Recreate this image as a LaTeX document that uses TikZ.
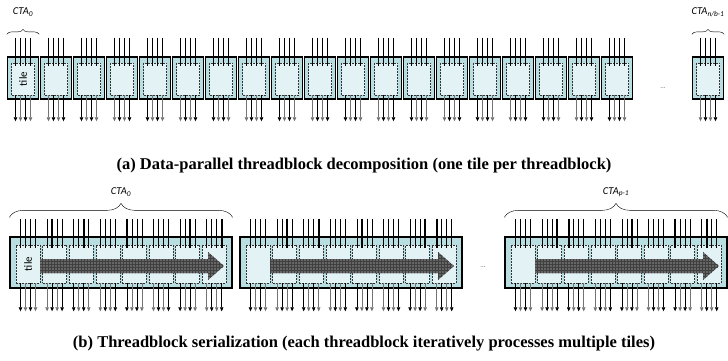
\documentclass[tikz,border=0pt]{standalone}
\usepackage{fontspec}
\setmainfont{Liberation Serif}
\newfontfamily\calibri{Carlito}
\usetikzlibrary{arrows.meta,decorations.pathreplacing,patterns}
\definecolor{ctafill}{HTML}{B9DEE2}
\definecolor{tilefill}{HTML}{E3F3F5}
\tikzset{
  cta/.style={draw=black,line width=1.3pt,fill=ctafill,inner sep=0pt},
  tilebox/.style={draw=black!80,dash pattern=on 2pt off 1pt,line width=0.6pt,fill=tilefill,inner sep=0pt},
  wireout/.style={line width=0.7pt,-{Triangle[width=3.5pt,length=4pt]}},
  brc/.style={decorate,decoration={brace,amplitude=#1}},
  lbl/.style={font=\calibri\itshape\fontsize{10.5}{12}\selectfont,inner sep=0pt},
  tilelbl/.style={rotate=90,font=\calibri\fontsize{11}{13}\selectfont},
  subcap/.style={font=\bfseries\fontsize{16.5}{19}\selectfont},
  dots/.style={font=\calibri\scriptsize,text=black!60}
}
\begin{document}
\begin{tikzpicture}[x=1pt,y=-1pt]
  \useasboundingbox (0,0) rectangle (728,360);
  % (a) one tile per CTA
  \foreach \i in {0,...,19} {
    \pgfmathsetmacro\cx{\i<19 ? 23+33*\i : 708}
    \node[cta,minimum width=31pt,minimum height=42pt] (a\i) at (\cx,78) {};
    \node[tilebox,minimum width=23pt,minimum height=32pt] (ta\i) at (\cx,79) {};
    \foreach \j in {0,...,3} {
      \pgfmathsetmacro\dx{-7.5+5*\j}
      \pgfmathsetmacro\lw{mod(\i+2*\j,3)==0 ? 1.6 : 0.7}
      \pgfmathsetmacro\gc{mod(\i+\j,2)==0 ? 100 : 55}
      \draw[line width=\lw pt] ([xshift=\dx pt,yshift=25pt]ta\i.north) -- ([xshift=\dx pt,yshift=-3pt]ta\i.north);
      \draw[wireout,draw=black!\gc] ([xshift=\dx pt]ta\i.south) -- ([xshift=\dx pt,yshift=-26pt]ta\i.south);
    }
  }
  \node[tilelbl] (t0) at (ta0) {tile};
  \node[dots] (da) at (663,88) {...};
  \draw[brc=5pt] ([yshift=22pt]a0.north west) -- ([yshift=22pt]a0.north east);
  \draw[brc=5pt] ([yshift=22pt]a19.north west) -- ([yshift=22pt]a19.north east);
  \node[lbl] (cta0) at (a0.north |- 0,12) {CTA\textsubscript{0}};
  \node[lbl] (ctan) at (a19.north |- 0,12) {CTA\textsubscript{n/b-1}};
  \node[subcap] (capa) at (364,166) {(a) Data-parallel threadblock decomposition (one tile per threadblock)};

  % (b) each CTA walks over several tiles
  \foreach \k/\bx in {0/10,1/240,2/505} {
    \node[cta,minimum width=222pt,minimum height=51pt] (b\k) at (\bx+111,262.5) {};
    \foreach \m in {0,...,7} {
      \pgfmathsetmacro\cx{\bx+18+26.6*\m}
      \node[tilebox,minimum width=24pt,minimum height=38pt] (tb\k\m) at (\cx,264) {};
      \foreach \j in {0,...,3} {
        \pgfmathsetmacro\dx{-7.5+5*\j}
        \pgfmathsetmacro\lw{mod(\m+\k+3*\j,4)==0 ? 1.6 : 0.7}
        \pgfmathsetmacro\gc{mod(\m+\j,2)==0 ? 100 : 55}
        \draw[line width=\lw pt] ([xshift=\dx pt,yshift=26pt]tb\k\m.north) -- ([xshift=\dx pt,yshift=-3pt]tb\k\m.north);
        \draw[wireout,draw=black!\gc] ([xshift=\dx pt]tb\k\m.south) -- ([xshift=\dx pt,yshift=-28pt]tb\k\m.south);
      }
    }
    \fill[black!60] (\bx+30,259) -- (\bx+198,259) -- (\bx+198,252) -- (\bx+214,266)
      -- (\bx+198,280) -- (\bx+198,273) -- (\bx+30,273) -- cycle;
    \fill[pattern=grid,pattern color=black!75] (\bx+30,259) -- (\bx+198,259) -- (\bx+198,252) -- (\bx+214,266)
      -- (\bx+198,280) -- (\bx+198,273) -- (\bx+30,273) -- cycle;
  }
  \node[tilelbl] (t1) at (tb00) {tile};
  \node[dots] (db) at (483,267) {...};
  \draw[brc=14pt] ([yshift=19pt]b0.north west) -- ([yshift=19pt]b0.north east);
  \draw[brc=14pt] ([yshift=19pt]b2.north west) -- ([yshift=19pt]b2.north east);
  \node[lbl] (ctb0) at (b0.north |- 0,192) {CTA\textsubscript{0}};
  \node[lbl] (ctbp) at (b2.north |- 0,192) {CTA\textsubscript{p-1}};
  \node[subcap] (capb) at (364,344) {(b) Threadblock serialization (each threadblock iteratively processes multiple tiles)};
\end{tikzpicture}
\end{document}
